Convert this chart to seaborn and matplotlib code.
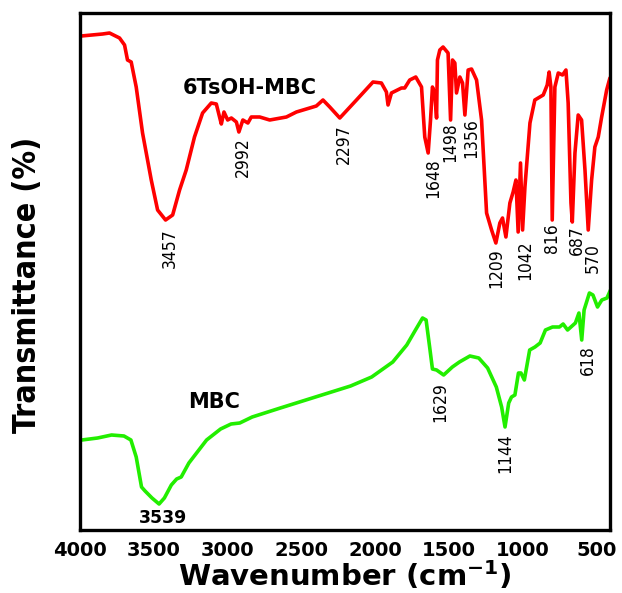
import matplotlib
matplotlib.use("Agg")
import matplotlib.pyplot as plt
from matplotlib.ticker import MultipleLocator
import seaborn as sns
import pandas as pd

# ---- data (wavenumber cm-1, transmittance arb. units) ----
tsoh_wn = [3992, 3847, 3800, 3732, 3698, 3678, 3653, 3619, 3576, 3517, 3474, 3420,
           3372, 3325, 3280, 3224, 3169, 3110, 3076, 3054, 3042, 3024, 2999, 2974,
           2940, 2923, 2896, 2862, 2839, 2782, 2714, 2601, 2533, 2398, 2353, 2307,
           2239, 2126, 2014, 1957, 1923, 1912, 1889, 1821, 1799, 1765, 1724, 1685,
           1663, 1640, 1624, 1611, 1595, 1583, 1577, 1561, 1539, 1505, 1488, 1475,
           1459, 1448, 1425, 1407, 1391, 1369, 1346, 1312, 1278, 1244, 1210, 1181,
           1154, 1136, 1113, 1086, 1064, 1045, 1030, 1014, 1000, 984, 950, 917,
           860, 833, 820, 808, 799, 781, 758, 729, 706, 691, 672, 663, 645, 623,
           600, 577, 555, 532, 510, 487, 464, 430, 408]
tsoh_t = [494, 496, 497, 492, 485, 470, 468, 443, 397, 350, 320, 310,
          315, 340, 360, 393, 417, 427, 426, 413, 406, 418, 410, 412,
          408, 398, 410, 407, 413, 413, 410, 413, 418, 424, 430, 423,
          412, 430, 448, 447, 438, 425, 437, 442, 442, 450, 453, 443,
          393, 377, 410, 443, 437, 412, 470, 480, 483, 477, 410, 470,
          467, 437, 453, 447, 415, 460, 461, 450, 410, 317, 300, 287,
          307, 312, 293, 327, 338, 350, 298, 367, 300, 343, 407, 430,
          435, 445, 458, 443, 310, 443, 457, 455, 460, 427, 327, 308, 377, 415,
          410, 360, 300, 350, 383, 393, 413, 440, 452]

mbc_wn = [3988, 3881, 3786, 3702, 3655, 3619, 3583, 3559, 3512, 3464, 3428, 3381,
          3345, 3314, 3262, 3142, 3047, 2976, 2917, 2833, 2642, 2404, 2166, 2023,
          1880, 1785, 1726, 1678, 1654, 1630, 1611, 1583, 1535, 1476, 1428, 1357,
          1297, 1237, 1178, 1142, 1119, 1094, 1075, 1052, 1028, 1011, 988, 952,
          916, 881, 845, 797, 750, 725, 695, 642, 618, 599, 583, 547, 523, 492,
          463, 428, 404]
mbc_t = [90, 92, 95, 94, 90, 73, 43, 39, 32, 26, 32, 45,
         51, 53, 67, 90, 101, 106, 107, 113, 122, 133, 144, 153,
         168, 185, 200, 212, 210, 183, 161, 160, 155, 163, 168, 174,
         172, 162, 143, 123, 103, 127, 133, 135, 157, 157, 150, 180,
         183, 187, 200, 203, 203, 206, 200, 207, 217, 190, 220, 237, 235, 223,
         230, 232, 240]

# peak annotations: text, x position (cm-1), top of label (arb. units)
tsoh_peak_text = ["3457", "2992", "2297", "1648", "1498", "1356",
                  "1209", "1042", "816", "687", "570"]
tsoh_peak_x = [3392, 2897, 2214, 1608, 1493, 1346, 1176, 984, 803, 632, 523]
tsoh_peak_y = [302, 393, 406, 372, 408, 412, 282, 290, 307, 305, 287]

mbc_peak_text = ["1629", "1144", "618"]
mbc_peak_x = [1560, 1120, 557]
mbc_peak_y = [148, 97, 185]

series_names = ["6TsOH-MBC", "MBC"]
series_colors = ["#ff0000", "#22ee00"]
x_ticks = [4000, 3500, 3000, 2500, 2000, 1500, 1000, 500]

# ---- build table ----
df = pd.concat([
    pd.DataFrame({"wn": tsoh_wn, "T": tsoh_t, "sample": series_names[0]}),
    pd.DataFrame({"wn": mbc_wn, "T": mbc_t, "sample": series_names[1]}),
], ignore_index=True)

sns.set_style("white")
plt.rcParams["font.family"] = ["DejaVu Sans"]

W, H = 622, 593
fig = plt.figure(figsize=(W / 100, H / 100), dpi=100)
ax = fig.add_axes([80 / W, (H - 530) / H, 530.5 / W, 517 / H])

sns.lineplot(data=df, x="wn", y="T", hue="sample", palette=series_colors,
             hue_order=series_names, sort=False, estimator=None,
             linewidth=2.6, legend=False, ax=ax)

ax.set_xlim(4000, 404)
ax.set_ylim(0, 517)
ax.set_xticks(x_ticks)
ax.xaxis.set_minor_locator(MultipleLocator(250))
ax.set_yticks([])
for lab in ax.get_xticklabels():
    lab.set_fontweight("bold")
ax.tick_params(axis="x", which="major", direction="out", length=6, width=2.2,
               labelsize=14, pad=2, colors="black")
ax.tick_params(axis="x", which="minor", direction="out", length=3, width=2.0)
for s in ax.spines.values():
    s.set_linewidth(2.4)
    s.set_color("black")
    s.set_visible(True)

ax.set_xlabel(r"Wavenumber (cm$^{\mathbf{-1}}$)", fontsize=21, fontweight="bold",
              labelpad=-1, color="black")
ax.set_ylabel("Transmittance (%)", fontsize=23, fontweight="bold",
              family="DejaVu Sans", fontstretch="condensed", color="black")
ax.yaxis.set_label_coords(-0.07, 0.474)

for t, x, y in zip(tsoh_peak_text, tsoh_peak_x, tsoh_peak_y):
    ax.text(x, y, t, rotation=90, ha="center", va="top", fontsize=12.5,
            family="DejaVu Sans", fontstretch="condensed", color="black")
for t, x, y in zip(mbc_peak_text, mbc_peak_x, mbc_peak_y):
    ax.text(x, y, t, rotation=90, ha="center", va="top", fontsize=12.5,
            family="DejaVu Sans", fontstretch="condensed", color="black")

ax.text(3440, 12, "3539", ha="center", va="center", fontsize=12.5,
        fontweight="bold", color="black")
ax.text(3088, 128, "MBC", ha="center", va="center", fontsize=15,
        fontweight="bold", color="black")
ax.text(2849, 442, "6TsOH-MBC", ha="center", va="center", fontsize=15,
        fontweight="bold", color="black")

fig.savefig("out.png", dpi=100)
